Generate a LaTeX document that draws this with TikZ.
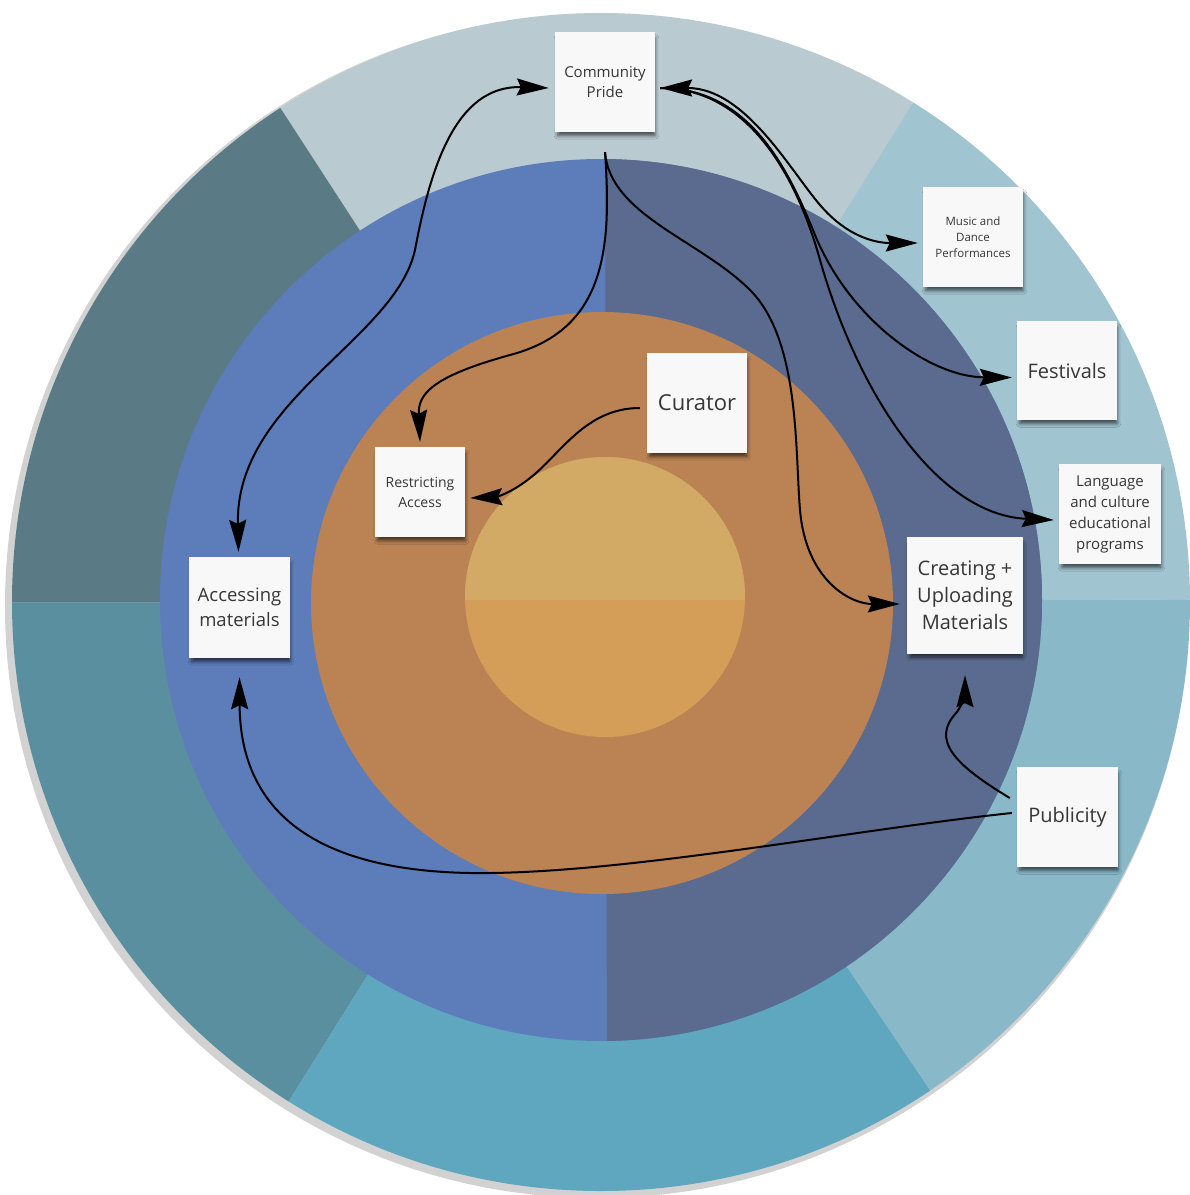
\documentclass[tikz,border=0pt]{standalone}
\usepackage{fontspec}
\setmainfont{Open Sans}
\usetikzlibrary{arrows.meta,calc,shadows.blur}

% ring colours
\definecolor{segTop}{HTML}{BACAD1}
\definecolor{segUL}{HTML}{5A7B86}
\definecolor{segLL}{HTML}{5A8FA0}
\definecolor{segBot}{HTML}{5FA7BF}
\definecolor{segLR}{HTML}{89B9C9}
\definecolor{segUR}{HTML}{A0C4D0}
\definecolor{midLeft}{HTML}{5D7CBA}
\definecolor{midRight}{HTML}{5A6B8F}
\definecolor{coreRing}{HTML}{BB8354}
\definecolor{coreTop}{HTML}{D2AA66}
\definecolor{coreBot}{HTML}{D49E58}
\definecolor{edgeShadow}{HTML}{D2D2D2}
\definecolor{notefill}{HTML}{F8F8F8}
\definecolor{notetext}{HTML}{363636}

\tikzset{
  sticky/.style={fill=notefill, inner sep=0pt, align=center, text=notetext,
    blur shadow={shadow xshift=1.5pt, shadow yshift=-5pt, shadow blur radius=4pt,
      shadow opacity=65, shadow scale=0.97}},
  tip/.tip={Stealth[length=32pt,width=17pt,inset=4pt]},
  link/.style={line width=2pt, black, -tip},
  link2/.style={line width=2pt, black, tip-tip},
}

\begin{document}
\begin{tikzpicture}[x=1pt,y=-1pt]
  \useasboundingbox (0,0) rectangle (1190,1195);
  \fill[white] (0,0) rectangle (1190,1195);

  % soft rim under the outer disc
  \fill[edgeShadow] (597,606) circle (592);

  % outer ring: six wedges
  \begin{scope}
    \clip (601,602) circle (589);
    \fill[segTop] (601,602) -- (1078,-161) -- (111,-153) -- cycle;
    \fill[segUL]  (601,602) -- (111,-153) -- (-299,603) -- cycle;
    \fill[segLL]  (601,602) -- (-299,603) -- (124,1365) -- cycle;
    \fill[segBot] (601,602) -- (124,1365) -- (1104,1348) -- cycle;
    \fill[segLR]  (601,602) -- (1104,1348) -- (1501,598) -- cycle;
    \fill[segUR]  (601,602) -- (1501,598) -- (1078,-161) -- cycle;
  \end{scope}

  % middle ring, split into two halves
  \begin{scope}
    \clip (601,600) circle (441);
    \fill[midLeft] (100,100) rectangle (1100,1100);
    \fill[midRight] (605,100) -- (1100,100) -- (1100,1100) -- (607,1100) -- cycle;
  \end{scope}

  % core
  \fill[coreRing] (602,603) circle (291);
  \begin{scope}
    \clip (605,597) circle (140);
    \fill[coreBot] (400,400) rectangle (800,800);
    \fill[coreTop] (400,400) rectangle (800,600);
  \end{scope}

  % sticky notes
  \node[sticky, minimum width=100pt, minimum height=100pt, font=\fontsize{15}{20}\selectfont]
    (cp) at (605,82) {Community\\Pride};
  \node[sticky, minimum width=100pt, minimum height=100pt, font=\fontsize{11.5}{16}\selectfont]
    (music) at (973,237) {Music and\\Dance\\Performances};
  \node[sticky, minimum width=100pt, minimum height=99pt, font=\fontsize{20}{26}\selectfont]
    (fest) at (1067,370.5) {Festivals};
  \node[sticky, minimum width=102pt, minimum height=100pt, font=\fontsize{15}{21}\selectfont]
    (lang) at (1110,514) {Language\\and culture\\educational\\programs};
  \node[sticky, minimum width=100pt, minimum height=100pt, font=\fontsize{22}{28}\selectfont]
    (cur) at (697,403) {Curator};
  \node[sticky, minimum width=90pt, minimum height=90pt, font=\fontsize{14}{20}\selectfont]
    (restr) at (420,492) {Restricting\\Access};
  \node[sticky, minimum width=101pt, minimum height=101pt, font=\fontsize{18.5}{24.5}\selectfont]
    (acc) at (239.5,607.5) {Accessing\\materials};
  \node[sticky, minimum width=116pt, minimum height=117pt, font=\fontsize{20}{27}\selectfont]
    (create) at (965,595.5) {Creating +\\Uploading\\Materials};
  \node[sticky, minimum width=101pt, minimum height=100pt, font=\fontsize{20}{26}\selectfont]
    (pub) at (1067.5,817) {Publicity};

  % connectors
  \draw[link2] ($(cp.west)+(-6,6)$) .. controls (455,85) and (430,170) .. (415,250)
    .. controls (395,340) and (235,400) .. ($(acc.north)+(-1,-5)$);
  \draw[link2] ($(cp.east)+(5,6)$) .. controls (745,88) and (790,170) .. (820,205)
    .. controls (850,240) and (880,243) .. ($(music.west)+(-5,6)$);
  \draw[link] ($(cp.east)+(5,6)$) .. controls (745,88) and (785,160) .. (815,235)
    .. controls (850,320) and (930,377) .. ($(fest.west)+(-5,7)$);
  \draw[link] ($(cp.east)+(5,6)$) .. controls (745,88) and (795,170) .. (820,260)
    .. controls (860,400) and (940,515) .. ($(lang.west)+(-5,6)$);
  \draw[link] ($(cp.south)+(0,20)$) .. controls (612,250) and (605,330) .. (510,355)
    .. controls (430,377) and (418,395) .. ($(restr.north)+(0,-5)$);
  \draw[link] ($(cp.south)+(0,20)$) .. controls (610,215) and (700,240) .. (750,290)
    .. controls (800,340) and (795,450) .. (800,510)
    .. controls (806,580) and (850,604) .. ($(create.west)+(-7,8.5)$);
  \draw[link] ($(cur.west)+(-7,5)$) .. controls (585,408) and (560,455) .. (530,478)
    .. controls (510,494) and (495,497) .. ($(restr.east)+(5,6)$);
  \draw[link] ($(pub.west)+(-5,-4)$) .. controls (850,830) and (620,875) .. (470,873)
    .. controls (300,870) and (240,800) .. ($(acc.south)+(0,19)$);
  \draw[link] ($(pub.west)+(-7,-19)$) .. controls (955,765) and (930,740) .. (957,712)
    .. controls (963,703) and (965,695) .. ($(create.south)+(0,21)$);
\end{tikzpicture}
\end{document}
